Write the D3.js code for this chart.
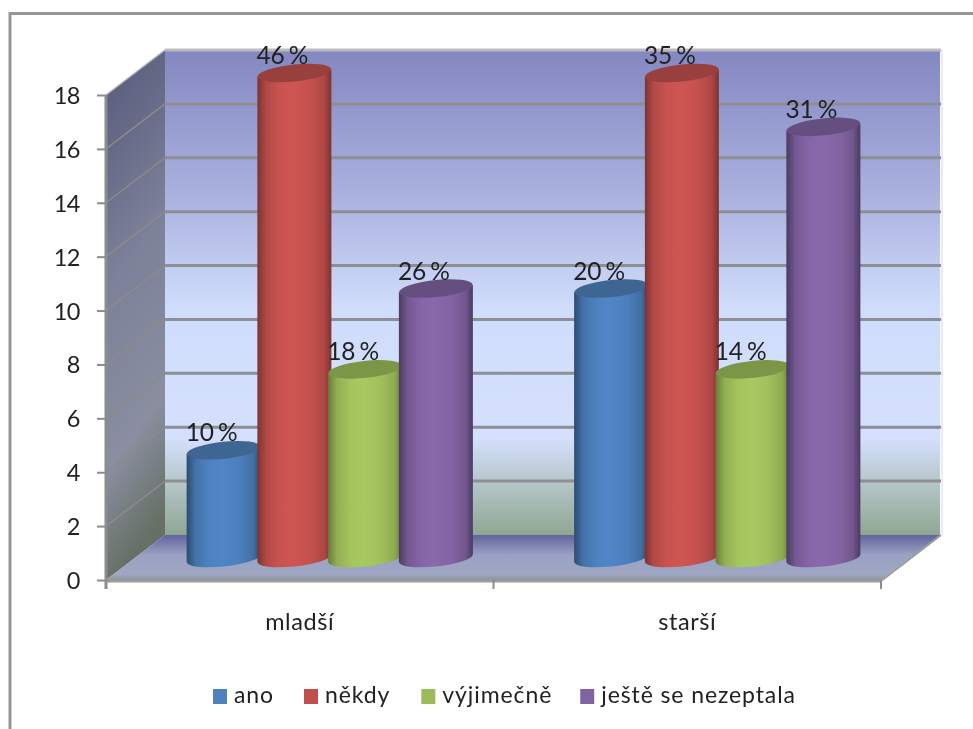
<!DOCTYPE html>
<html><head><meta charset="utf-8">
<script src="https://cdn.jsdelivr.net/npm/d3@7/dist/d3.min.js"></script>
<style>html,body{margin:0;padding:0;background:#fff}svg{display:block;filter:blur(.6px)}text{font-family:Lato,"Open Sans",sans-serif;fill:#222}</style>
</head><body><script>
const categories = ["mladší", "starší"];
const seriesNames = ["ano", "někdy", "výjimečně", "ještě se nezeptala"];
const ano = [4, 10];
const nekdy = [18, 18];
const vyjimecne = [7, 7];
const jesteNe = [10, 16];
const seriesValues = [ano, nekdy, vyjimecne, jesteNe];
const anoLabels = ["10 %", "20 %"];
const nekdyLabels = ["46 %", "35 %"];
const vyjimecneLabels = ["18 %", "14 %"];
const jesteNeLabels = ["26 %", "31 %"];
const seriesLabels = [anoLabels, nekdyLabels, vyjimecneLabels, jesteNeLabels];
const yTicks = [0, 2, 4, 6, 8, 10, 12, 14, 16, 18];
const seriesColors = [
  {mid:"#5086c6", edge:"#2c4c70", top:"#3f6592", sw:"#4f81bd"},
  {mid:"#cf5552", edge:"#7c3331", top:"#98403e", sw:"#c0504d"},
  {mid:"#a8c961", edge:"#687d3a", top:"#7c9647", sw:"#9bbb59"},
  {mid:"#8a68ac", edge:"#4c3b61", top:"#654f80", sw:"#8064a2"}
];

const W = 973, H = 729;
const svg = d3.select("body").append("svg").attr("width", W).attr("height", H);
const defs = svg.append("defs");
function grad(id, stops, x2, y2, x1=0, y1=0) {
  const g = defs.append("linearGradient").attr("id", id)
    .attr("x1", x1).attr("y1", y1).attr("x2", x2).attr("y2", y2);
  stops.forEach(([o, c]) => g.append("stop").attr("offset", o).attr("stop-color", c));
}
grad("back", [[0,"#8487c1"],[.3,"#aab1de"],[.53,"#cfdcfb"],[.8,"#d4e0fd"],[.88,"#b9c9cf"],[1,"#8ea792"]], 0, 1);
grad("side", [[0,"#565879"],[.45,"#7d8199"],[.78,"#8a8ea0"],[1,"#667065"]], .15, 1);
grad("floor", [[0,"#62649d"],[.45,"#9aa2c4"],[.88,"#9fa7c3"],[1,"#8b959b"]], 0, 1);
seriesColors.forEach((c, i) => grad("cyl" + i,
  [[0,c.edge],[.12,d3.interpolateRgb(c.edge,c.mid)(.65)],[.3,d3.interpolateRgb(c.edge,c.mid)(.93)],[.48,c.mid],[.72,d3.interpolateRgb(c.edge,c.mid)(.88)],[.9,d3.interpolateRgb(c.edge,c.mid)(.6)],[1,c.edge]], 1, 0));

// Outer frame
svg.append("path").attr("d", `M10,${H} V13.5 H${W}`).attr("fill","none").attr("stroke","#969696").attr("stroke-width",3);

const y = d3.scaleLinear().domain([0, 18]).range([580, 95]);
const dx = 59, dy = -45;
const x0 = d3.scaleBand().domain(categories).range([106, 881]);
const x1 = d3.scaleBand().domain(seriesNames).range([-141.5, 141.5]);
const floorY = y(0), topY = y(18);

// Back wall, side wall, floor
svg.append("rect").attr("x",106+dx).attr("y",topY+dy).attr("width",881-106).attr("height",floorY-topY)
  .attr("fill","url(#back)");
svg.append("path").attr("d",`M106,${floorY}V${topY}L${106+dx},${topY+dy}V${floorY+dy}Z`).attr("fill","url(#side)");
svg.append("path").attr("d",`M106,${floorY}L${106+dx},${floorY+dy}H${881+dx}L881,${floorY}Z`).attr("fill","url(#floor)");

// Gridlines
yTicks.slice(1).forEach(t => {
  const top = t === 18;
  svg.append("line").attr("x1",106+dx).attr("x2",881+dx+1).attr("y1",y(t)+dy).attr("y2",y(t)+dy)
    .attr("stroke", top ? "#bcbcbc" : "#8d8e96").attr("stroke-width",3);
  svg.append("line").attr("x1",106).attr("y1",y(t)).attr("x2",106+dx).attr("y2",y(t)+dy)
    .attr("stroke", top ? "#b5b5b5" : "#8b8b8b").attr("stroke-width",1.5);
});
svg.append("line").attr("x1",881).attr("y1",floorY+1).attr("x2",881+dx+1).attr("y2",floorY+dy)
  .attr("stroke","#9a9a9a").attr("stroke-width",2);
svg.append("line").attr("x1",942).attr("x2",942).attr("y1",topY+dy).attr("y2",floorY+dy)
  .attr("stroke","#e6eafa").attr("stroke-width",2);

// Axes
const axisC = "#8c8c8c";
svg.append("line").attr("x1",106).attr("x2",106).attr("y1",topY).attr("y2",floorY+9).attr("stroke",axisC).attr("stroke-width",3);
svg.append("line").attr("x1",105).attr("x2",881).attr("y1",floorY+1).attr("y2",floorY+1).attr("stroke","#9a9a9a").attr("stroke-width",3);
const xEdges = [106, x0(categories[1]), 881];
xEdges.forEach(v => svg.append("line").attr("x1",v).attr("x2",v).attr("y1",floorY).attr("y2",floorY+9).attr("stroke",axisC).attr("stroke-width",2));

const yAxisG = svg.append("g").attr("transform","translate(106,0)")
  .call(d3.axisLeft(y).tickValues(yTicks).tickSize(9).tickPadding(17).tickFormat(d3.format("d")));
yAxisG.select(".domain").remove();
yAxisG.selectAll(".tick line").attr("stroke",axisC).attr("stroke-width",2);
yAxisG.selectAll(".tick text").style("font-size","23.5px").style("font-family","Lato").style("letter-spacing","-0.5px").attr("dy","0.36em");

// Category labels
svg.selectAll(".cat").data(categories).join("text").attr("class","cat")
  .attr("x", d => x0(d) + x0.bandwidth()/2).attr("y", 630)
  .attr("text-anchor","middle").style("font-size","23.5px").style("letter-spacing","0.6px").text(d => d);

// Cylinders
const barShift = 30, rx = 37, ry = 8.5, tilt = -6, sideDy = 3.6;
const baseOffset = -22;
categories.forEach((cat, c) => {
  seriesNames.forEach((s, i) => {
    const cx = x0(cat) + x0.bandwidth()/2 + barShift + x1(s) + x1.bandwidth()/2;
    const v = seriesValues[i][c];
    const yt = y(v) + baseOffset, yb = y(0) + baseOffset;
    const g = svg.append("g");
    g.append("path").attr("fill",`url(#cyl${i})`)
      .attr("d",`M${cx-rx},${yt+sideDy}L${cx-rx},${yb+sideDy}A${rx},${ry} ${tilt} 0 0 ${cx+rx},${yb-sideDy}L${cx+rx},${yt-sideDy}Z`);
    g.append("ellipse").attr("cx",0).attr("cy",0).attr("rx",rx).attr("ry",ry)
      .attr("transform",`translate(${cx},${yt}) rotate(${tilt})`).attr("fill",seriesColors[i].top);
  });
});
// Data labels above all cylinders
categories.forEach((cat, c) => {
  seriesNames.forEach((s, i) => {
    const cx = x0(cat) + x0.bandwidth()/2 + barShift + x1(s) + x1.bandwidth()/2;
    svg.append("text").attr("x",cx-12).attr("y",y(seriesValues[i][c])+baseOffset-9)
      .attr("text-anchor","middle").style("font-size","24.5px").style("letter-spacing","-0.2px").style("word-spacing","-2px")
      .text(seriesLabels[i][c]);
  });
});

// Legend
let lx = 213;
const gaps = [30, 31, 28];
seriesNames.forEach((s, i) => {
  svg.append("rect").attr("x",lx).attr("y",689).attr("width",14).attr("height",15).attr("fill",seriesColors[i].sw);
  const t = svg.append("text").attr("x",lx+21).attr("y",703).style("font-size","23px").style("letter-spacing","0.9px").text(s);
  lx += 21 + t.node().getComputedTextLength() + (gaps[i] || 0);
});
</script></body></html>
